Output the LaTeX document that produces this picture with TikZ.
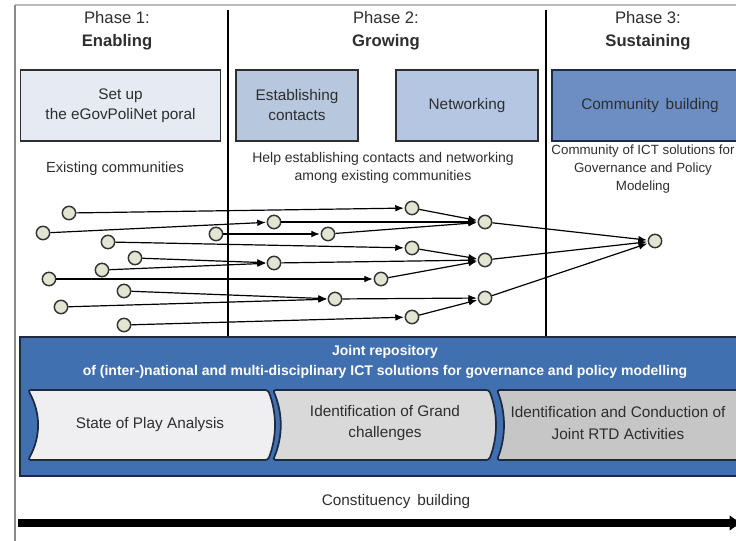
\documentclass[tikz,border=0pt]{standalone}
\usepackage{fontspec}
\setmainfont{Liberation Sans}
\usetikzlibrary{arrows.meta}
\definecolor{framegray}{HTML}{8A8A8A}
\definecolor{textgray}{HTML}{2E2E2E}
\definecolor{paleblue}{HTML}{E5EAF3}
\definecolor{midblue}{HTML}{B6C7DE}
\definecolor{netblue}{HTML}{B4C6E2}
\definecolor{deepblue}{HTML}{6C8EC3}
\definecolor{bandblue}{HTML}{4170B0}
\definecolor{navy}{HTML}{1C2A44}
\definecolor{nodefill}{HTML}{E3E5D3}
\definecolor{chevA}{HTML}{EFEFF1}
\definecolor{chevB}{HTML}{D9D9D9}
\definecolor{chevC}{HTML}{C6C6C6}
\tikzstyle{title} = [text=textgray, align=center, font=\fontsize{12.5}{15}\selectfont]
\tikzstyle{task} = [rectangle, minimum height=53pt, text centered, align=center, draw=textgray, line width=1.4pt, text=textgray, font=\fontsize{11.5}{15}\selectfont]
\tikzstyle{note} = [text=textgray, align=center, font=\fontsize{10.5}{13}\selectfont]
\tikzstyle{comm} = [circle, minimum size=10pt, inner sep=0pt, draw=black!80, line width=1.1pt, fill=nodefill]
\tikzstyle{arrow} = [line width=0.9pt, -{Latex[length=6.5pt,width=5pt]}, shorten >=0.5pt]
\tikzstyle{chev} = [draw=navy, line width=1.3pt, rounded corners=2pt]

\begin{document}
\begin{tikzpicture}[x=0.75pt, y=-0.75pt]
\path[use as bounding box, clip] (0,0) rectangle (736,541);

% frame and phase dividers
\draw[framegray!60, line width=0.8pt] (15,5) -- (760,5);
\draw[framegray, line width=0.9pt] (15,5) -- (15,560);
\draw[line width=1pt] (228,10) -- (228,337);
\draw[line width=1pt] (546,10) -- (546,337);

% phase titles
\node (ph1) [title] at (117,31) {Phase 1:\\[2pt]\textbf{Enabling}};
\node (ph2) [title] at (386,31) {Phase 2:\\[2pt]\textbf{Growing}};
\node (ph3) [title] at (648,31) {Phase 3:\\[2pt]\textbf{Sustaining}};

% phase tasks
\node (portal) [task, fill=paleblue, minimum width=150pt] at (120.5,105.5) {Set up\\the eGovPoliNet poral};
\node (contacts) [task, fill=midblue, minimum width=91pt] at (297,105.5) {Establishing\\contacts};
\node (network) [task, fill=netblue, minimum width=106pt] at (467,105.5) {Networking};
\node (build) [task, fill=deepblue, draw=navy, minimum width=147pt] at (650,105.5) {Community\, building};

\node (t1) [note, font=\fontsize{11}{13}\selectfont] at (115,169) {Existing communities};
\node (t2) [note] at (383,168) {Help establishing contacts and networking\\among existing communities};
\node (t3) [note, font=\fontsize{10}{13.5}\selectfont] at (643,169) {Community of ICT solutions for\\Governance and Policy\\Modeling};

% existing communities
\node (a1) [comm] at (69,213) {};
\node (a2) [comm] at (43,233) {};
\node (a3) [comm] at (108,242) {};
\node (a4) [comm] at (135,258) {};
\node (a5) [comm] at (102,270) {};
\node (a6) [comm] at (49,279) {};
\node (a7) [comm] at (124,291) {};
\node (a8) [comm] at (61,307) {};
\node (a9) [comm] at (124,325) {};
\node (a10) [comm] at (216,234) {};

% growing
\node (b1) [comm] at (412,208) {};
\node (b2) [comm] at (274,222) {};
\node (b3) [comm] at (328,234) {};
\node (b4) [comm] at (412,248) {};
\node (b5) [comm] at (274,263) {};
\node (b6) [comm] at (381,279) {};
\node (b7) [comm] at (335,299) {};
\node (b8) [comm] at (412,317) {};
\node (c1) [comm] at (485,222) {};
\node (c2) [comm] at (485,260) {};
\node (c3) [comm] at (485,298) {};

% sustaining
\node (z) [comm] at (655,241) {};

\draw [arrow] (a1) -- (b1);
\draw [arrow] (a2) -- (b2);
\draw [arrow] (a10) -- (b3);
\draw [arrow] (a3) -- (b4);
\draw [arrow] (a4) -- (b5);
\draw [arrow] (a5) -- (b5);
\draw [arrow] (a6) -- (b6);
\draw [arrow] (a7) -- (b7);
\draw [arrow] (a8) -- (b7);
\draw [arrow] (a9) -- (b8);
\draw [arrow] (b1) -- (c1);
\draw [arrow] (b2) -- (c1);
\draw [arrow] (b3) -- (c1);
\draw [arrow] (b4) -- (c2);
\draw [arrow] (b5) -- (c2);
\draw [arrow] (b6) -- (c2);
\draw [arrow] (b7) -- (c3);
\draw [arrow] (b8) -- (c3);
\draw [arrow] (c1) -- (z);
\draw [arrow] (c2) -- (z);
\draw [arrow] (c3) -- (z);

% joint repository
\draw[fill=bandblue, draw=navy, line width=1.3pt] (20,337) rectangle (760,476);
\node (repo) [text=white, align=center, font=\bfseries\fontsize{10.5}{15}\selectfont] at (385,362) {Joint repository\\of (inter-)national and multi-disciplinary ICT solutions for governance and policy modelling};

\draw[chev, fill=chevA] (28,390) .. controls (41,413) and (41,437) .. (28,460) -- (268,460) .. controls (277,437) and (277,413) .. (268,390) -- cycle;
\draw[chev, fill=chevB] (273,390) .. controls (283,413) and (283,437) .. (273,460) -- (489,460) .. controls (498,437) and (498,413) .. (489,390) -- cycle;
\draw[chev, fill=chevC] (497,390) .. controls (506,413) and (506,437) .. (497,460) -- (770,460) -- (770,390) -- cycle;
\node (sop) [note, font=\fontsize{11.5}{16}\selectfont] at (150,425) {State of Play Analysis};
\node (grand) [note, font=\fontsize{11.5}{16}\selectfont] at (385,423) {Identification of Grand\\challenges};
\node (rtd) [note, font=\fontsize{11.5}{16}\selectfont] at (618,423) {Identification and Conduction of\\Joint RTD Activities};

% constituency building
\node (const) [note, font=\fontsize{11.5}{14}\selectfont] at (396,502) {Constituency\, building};
\coordinate (cstart) at (18,523);
\coordinate (cend) at (743,523);
\draw[line width=5.5pt, -{Latex[length=10pt,width=12pt]}] (cstart) -- (cend);
\end{tikzpicture}
\end{document}
